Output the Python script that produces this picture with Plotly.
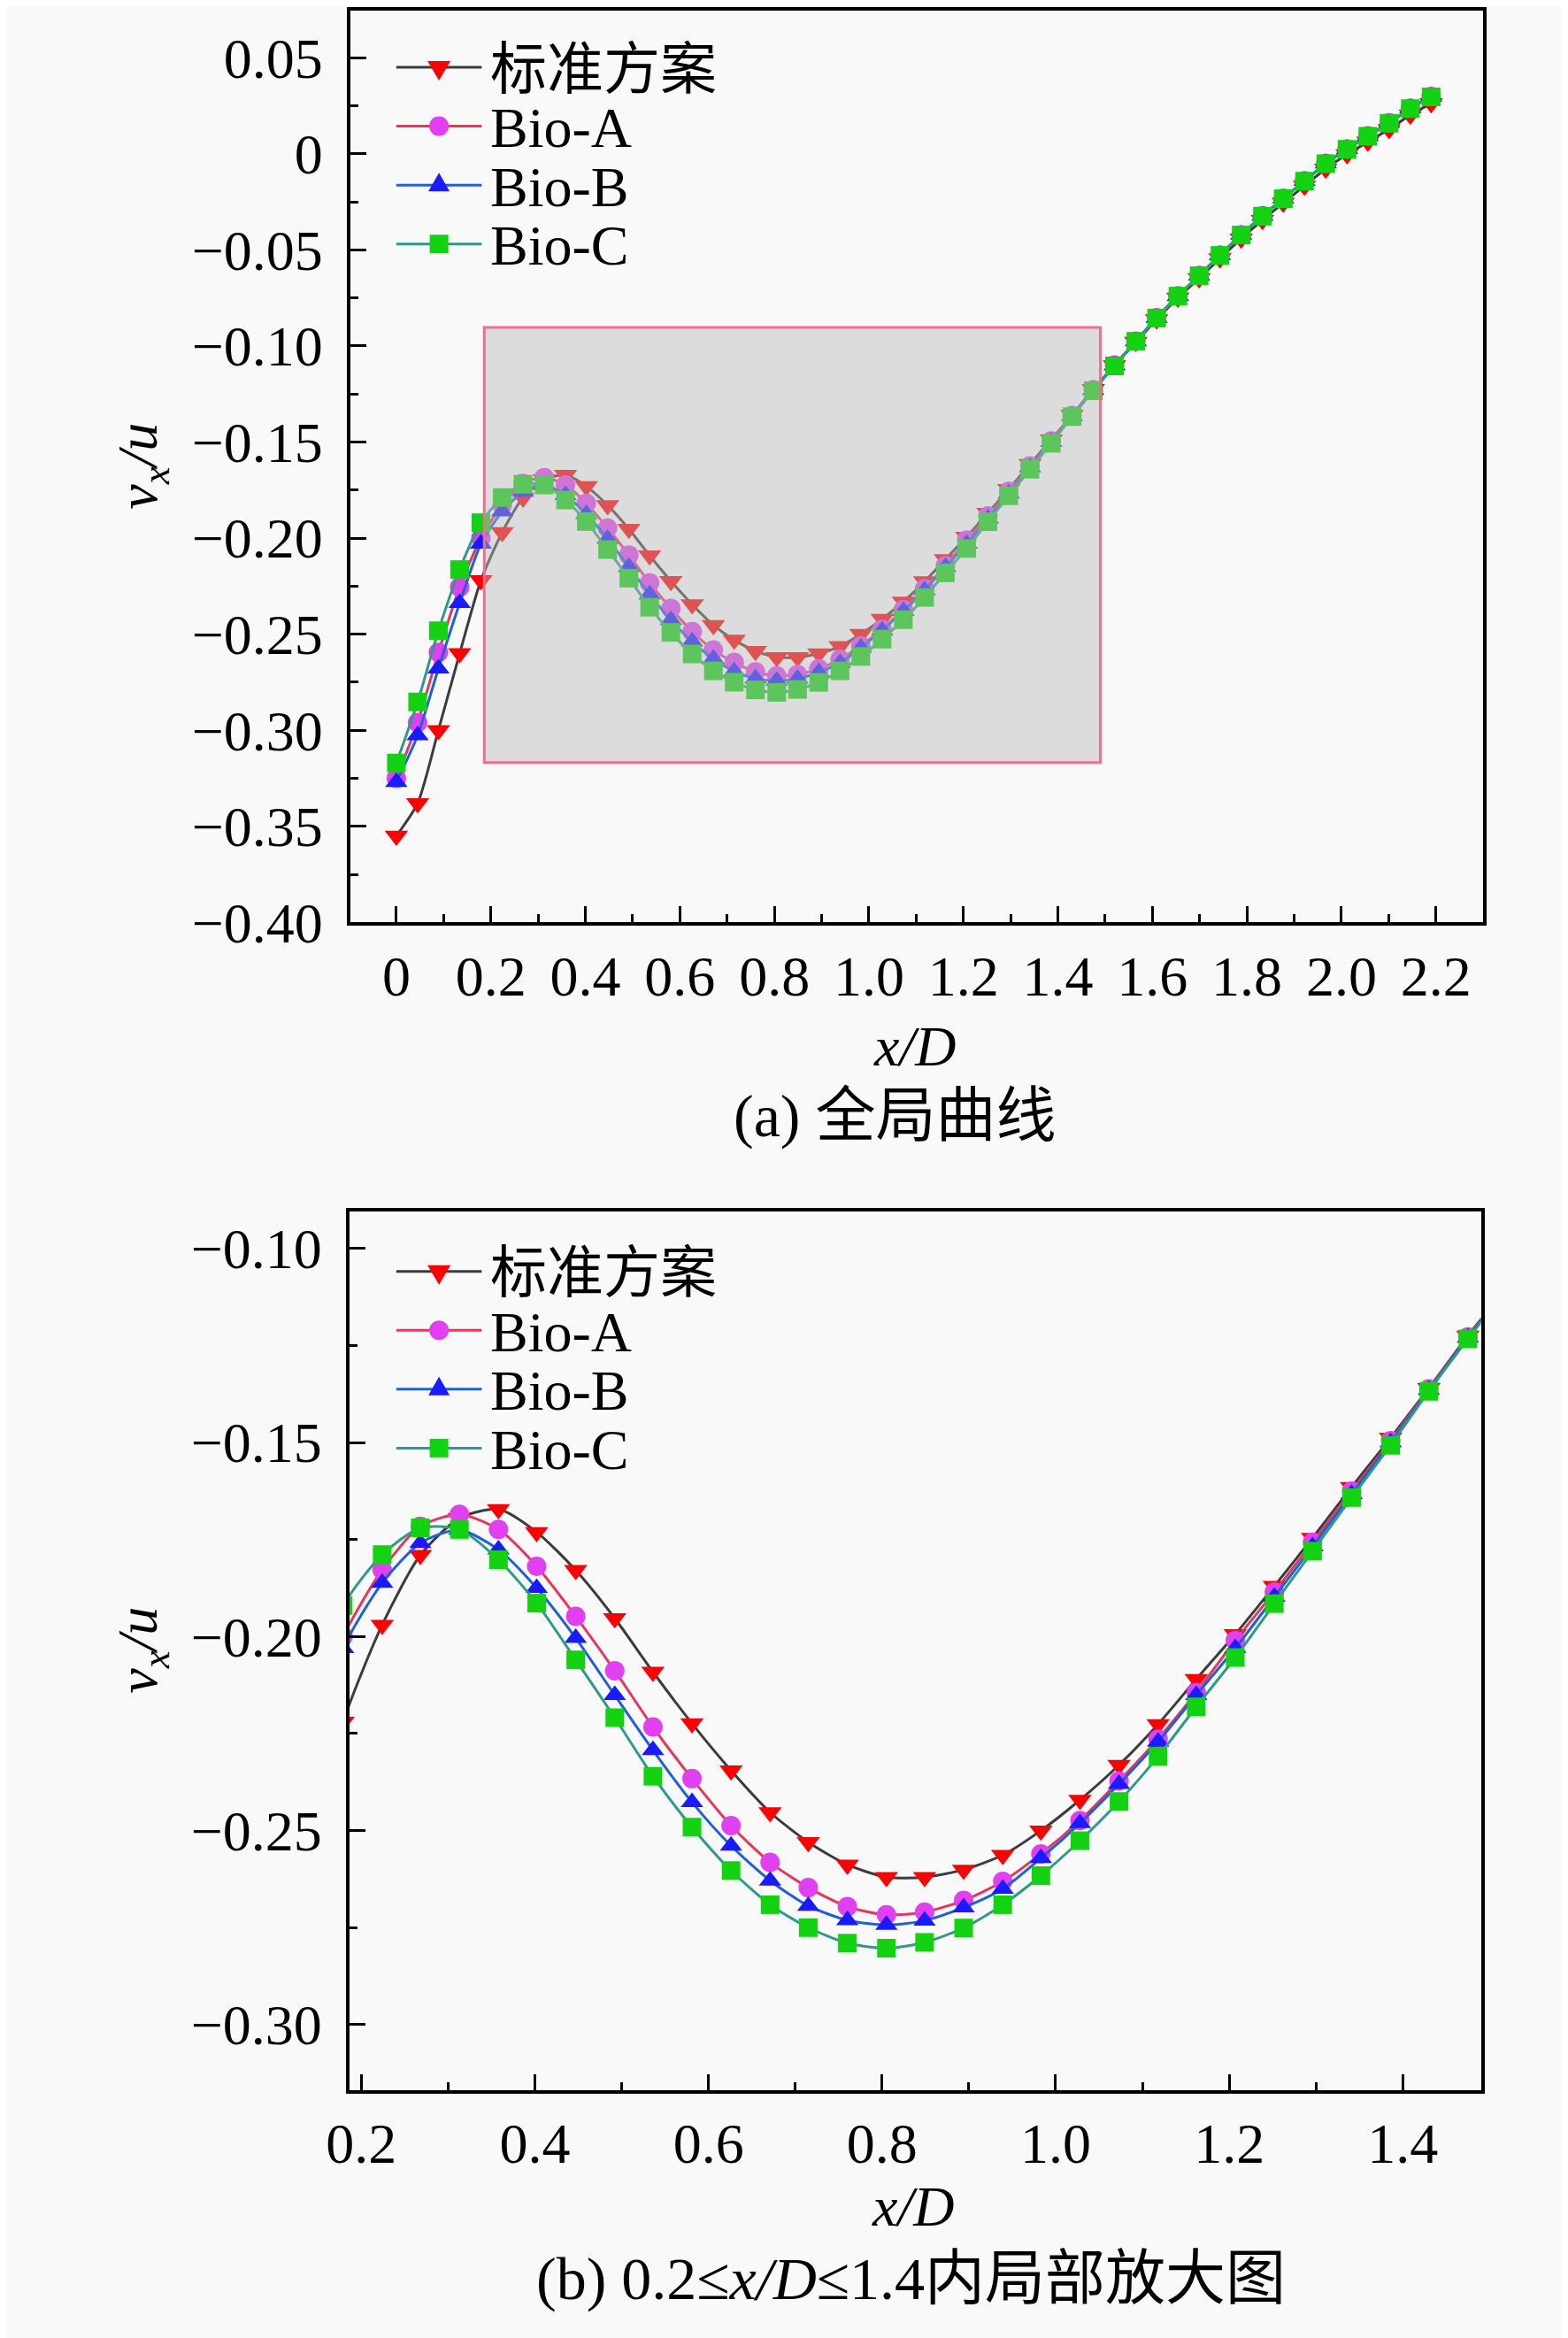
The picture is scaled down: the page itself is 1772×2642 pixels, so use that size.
import plotly.graph_objects as go
from plotly.subplots import make_subplots

# x/D positions of the sampled points
X_D = [0.000, 0.045, 0.089, 0.134, 0.179, 0.224, 0.268, 0.313, 0.358, 0.402,
       0.447, 0.492, 0.536, 0.581, 0.626, 0.671, 0.715, 0.760, 0.805, 0.849,
       0.894, 0.939, 0.983, 1.028, 1.073, 1.118, 1.162, 1.207, 1.252, 1.296,
       1.341, 1.386, 1.430, 1.475, 1.520, 1.565, 1.609, 1.654, 1.699, 1.743,
       1.788, 1.833, 1.877, 1.922, 1.967, 2.012, 2.056, 2.101, 2.146, 2.190]

V_STD = [-0.3550, -0.3380, -0.3000, -0.2600, -0.2220, -0.1970, -0.1790, -0.1695, -0.1672, -0.1731,
         -0.1829, -0.1953, -0.2091, -0.2224, -0.2345, -0.2453, -0.2530, -0.2588, -0.2620, -0.2620,
         -0.2601, -0.2563, -0.2500, -0.2421, -0.2331, -0.2226, -0.2110, -0.1994, -0.1870, -0.1746,
         -0.1615, -0.1488, -0.1360, -0.1225, -0.1102, -0.0980, -0.0862, -0.0750, -0.0648, -0.0545,
         -0.0442, -0.0345, -0.0256, -0.0167, -0.0078, -0.0004, 0.0062, 0.0128, 0.0202, 0.0262]

V_BIO_A = [-0.3250, -0.2960, -0.2595, -0.2255, -0.2000, -0.1828, -0.1716, -0.1685, -0.1724, -0.1819,
           -0.1948, -0.2088, -0.2233, -0.2366, -0.2487, -0.2582, -0.2647, -0.2696, -0.2717, -0.2710,
           -0.2680, -0.2631, -0.2560, -0.2474, -0.2372, -0.2264, -0.2144, -0.2010, -0.1885, -0.1757,
           -0.1625, -0.1495, -0.1362, -0.1228, -0.1100, -0.0975, -0.0853, -0.0739, -0.0633, -0.0527,
           -0.0421, -0.0323, -0.0232, -0.0141, -0.0050, 0.0025, 0.0093, 0.0161, 0.0237, 0.0298]

V_BIO_B = [-0.3270, -0.3027, -0.2679, -0.2338, -0.2030, -0.1862, -0.1759, -0.1725, -0.1776, -0.1875,
           -0.2004, -0.2151, -0.2293, -0.2427, -0.2539, -0.2629, -0.2694, -0.2731, -0.2743, -0.2732,
           -0.2698, -0.2650, -0.2571, -0.2481, -0.2380, -0.2271, -0.2151, -0.2030, -0.1898, -0.1768,
           -0.1633, -0.1500, -0.1365, -0.1230, -0.1102, -0.0976, -0.0854, -0.0740, -0.0634, -0.0528,
           -0.0422, -0.0324, -0.0233, -0.0142, -0.0051, 0.0024, 0.0092, 0.0160, 0.0236, 0.0297]

V_BIO_C = [-0.3171, -0.2853, -0.2482, -0.2164, -0.1920, -0.1789, -0.1720, -0.1724, -0.1802, -0.1914,
           -0.2060, -0.2209, -0.2360, -0.2491, -0.2603, -0.2691, -0.2750, -0.2790, -0.2803, -0.2788,
           -0.2751, -0.2691, -0.2616, -0.2526, -0.2425, -0.2309, -0.2181, -0.2054, -0.1915, -0.1780,
           -0.1642, -0.1507, -0.1368, -0.1233, -0.1104, -0.0976, -0.0855, -0.0741, -0.0635, -0.0529,
           -0.0423, -0.0325, -0.0234, -0.0143, -0.0052, 0.0023, 0.0091, 0.0159, 0.0235, 0.0296]

SERIES_NAMES = ["标准方案", "Bio-A", "Bio-B", "Bio-C"]

TOP_X_TICKS = [0, 0.2, 0.4, 0.6, 0.8, 1.0, 1.2, 1.4, 1.6, 1.8, 2.0, 2.2]
TOP_X_LABELS = ["0", "0.2", "0.4", "0.6", "0.8", "1.0", "1.2", "1.4", "1.6", "1.8", "2.0", "2.2"]
TOP_Y_TICKS = [0.05, 0, -0.05, -0.10, -0.15, -0.20, -0.25, -0.30, -0.35, -0.40]
TOP_Y_LABELS = ["0.05", "0", "−0.05", "−0.10", "−0.15", "−0.20", "−0.25", "−0.30", "−0.35", "−0.40"]
ZOOM_X_TICKS = [0.2, 0.4, 0.6, 0.8, 1.0, 1.2, 1.4]
ZOOM_X_LABELS = ["0.2", "0.4", "0.6", "0.8", "1.0", "1.2", "1.4"]
ZOOM_Y_TICKS = [-0.10, -0.15, -0.20, -0.25, -0.30]
ZOOM_Y_LABELS = ["−0.10", "−0.15", "−0.20", "−0.25", "−0.30"]

TOP_X_RANGE = [-0.098, 2.299]
TOP_Y_RANGE = [-0.400, 0.0745]
ZOOM_X_RANGE = [0.186, 1.490]
ZOOM_Y_RANGE = [-0.3168, -0.0904]

W, H = 1772, 2642
FONT = "Liberation Serif, Noto Sans CJK SC, serif"
BG = "#f9f9f9"


def px(p):
    return p / W


def py(p):
    return 1 - p / H


styles = [
    dict(line=dict(color="#3c3c3c", width=3), marker=dict(symbol="triangle-down", color="#ff0000", size=23)),
    dict(line=dict(color="#e8365a", width=3), marker=dict(symbol="circle", color="#e040f0", size=22)),
    dict(line=dict(color="#1f5fd8", width=3), marker=dict(symbol="triangle-up", color="#1a1aff", size=22)),
    dict(line=dict(color="#2e9a8c", width=3), marker=dict(symbol="square", color="#12d212", size=21)),
]
series = [V_STD, V_BIO_A, V_BIO_B, V_BIO_C]

fig = make_subplots(rows=2, cols=1)

for row in [1, 2]:
    for name, vals, st in zip(SERIES_NAMES, series, styles):
        fig.add_trace(go.Scatter(x=X_D, y=vals, name=name, mode="lines+markers",
                                 line=dict(shape="spline", smoothing=0.7, **st["line"]),
                                 marker=dict(line=dict(width=0), **st["marker"]),
                                 showlegend=False), row=row, col=1)

axis_common = dict(showline=True, linecolor="black", linewidth=4, mirror=True,
                   ticks="inside", tickcolor="black", tickwidth=3, ticklen=18,
                   showgrid=False, zeroline=False, tickmode="array",
                   tickfont=dict(family=FONT, size=64, color="black"))
minor_common = dict(ticks="inside", tickmode="linear", tick0=0, ticklen=9, tickwidth=3,
                    tickcolor="black", showgrid=False)

fig.update_xaxes(axis_common)
fig.update_yaxes(axis_common)

fig.update_layout(
    xaxis=dict(domain=[px(367), px(1666)], range=TOP_X_RANGE, tickvals=TOP_X_TICKS, ticktext=TOP_X_LABELS,
               ticklabelstandoff=2, minor=dict(dtick=0.1, **minor_common)),
    yaxis=dict(domain=[py(1048), py(3)], range=TOP_Y_RANGE, tickvals=TOP_Y_TICKS, ticktext=TOP_Y_LABELS,
               ticklabelstandoff=14, minor=dict(dtick=0.025, **minor_common)),
    xaxis2=dict(domain=[px(366), px(1664)], range=ZOOM_X_RANGE, tickvals=ZOOM_X_TICKS, ticktext=ZOOM_X_LABELS,
                ticklabelstandoff=2, minor=dict(dtick=0.1, **minor_common)),
    yaxis2=dict(domain=[py(2386), py(1379)], range=ZOOM_Y_RANGE, tickvals=ZOOM_Y_TICKS, ticktext=ZOOM_Y_LABELS,
                ticklabelstandoff=14, minor=dict(dtick=0.025, **minor_common)),
)

# zoom window highlighted on the global plot
fig.add_shape(type="rect", xref="x", yref="y",
              x0=ZOOM_X_RANGE[0], x1=ZOOM_X_RANGE[1], y0=ZOOM_Y_RANGE[0], y1=ZOOM_Y_RANGE[1],
              fillcolor="rgba(185,185,185,0.45)", line=dict(color="#ee6f8e", width=3), layer="above")

# legends: long line with the marker in the middle, as in the original
glyphs = [
    dict(type="path", path="M-13,7 L13,7 L0,-15 Z"),
    dict(type="circle", x0=-11, x1=11, y0=-11, y1=11),
    dict(type="path", path="M-12,-7 L12,-7 L0,14 Z"),
    dict(type="rect", x0=-10.5, x1=10.5, y0=-10.5, y1=10.5),
]
leg_font = dict(family=FONT, size=64, color="black")
for first_row in [68, 1448]:
    for k, (name, st, gl) in enumerate(zip(SERIES_NAMES, styles, glyphs)):
        yy = first_row + k * 67.5
        fig.add_shape(type="line", xref="paper", yref="paper", x0=px(420), x1=px(518),
                      y0=py(yy), y1=py(yy), line=dict(color=st["line"]["color"], width=3))
        fig.add_shape(xref="paper", yref="paper", xsizemode="pixel", ysizemode="pixel",
                      xanchor=px(469), yanchor=py(yy), fillcolor=st["marker"]["color"],
                      line=dict(width=0), **gl)
        fig.add_annotation(text=name, x=px(526), y=py(yy + 2), xref="paper", yref="paper",
                           xanchor="left", yanchor="middle", showarrow=False, font=leg_font)

title_font = dict(family=FONT, size=64, color="black")
caption_font = dict(family=FONT, size=68, color="black")
texts = [
    ("<i>v<sub>x</sub>/u</i>", 128, 525, -90, title_font),
    ("<i>v<sub>x</sub>/u</i>", 128, 1882, -90, title_font),
    ("<i>x/D</i>", 1014, 1190, 0, title_font),
    ("<i>x/D</i>", 1012, 2520, 0, title_font),
    ("(a) 全局曲线", 992, 1270, 0, caption_font),
    ("(b) 0.2≤<i>x/D</i>≤1.4内局部放大图", 1010, 2602, 0, caption_font),
]
for txt, ax, ay, ang, fnt in texts:
    fig.add_annotation(text=txt, x=px(ax), y=py(ay), xref="paper", yref="paper",
                       xanchor="center", yanchor="middle", showarrow=False,
                       textangle=ang, font=fnt)

fig.update_layout(width=W, height=H, margin=dict(l=0, r=0, t=0, b=0), showlegend=False,
                  paper_bgcolor=BG, plot_bgcolor=BG, font=dict(family=FONT, color="black"))

fig.write_html("out.html")
